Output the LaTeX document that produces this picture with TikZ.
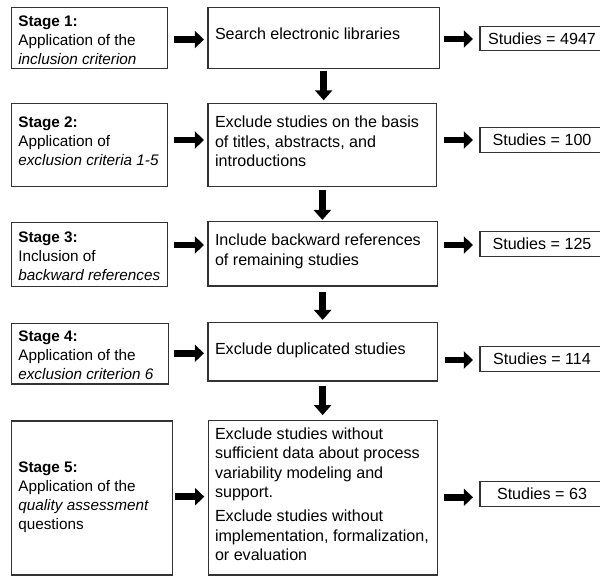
\documentclass[tikz,border=0pt]{standalone}
\usepackage{fontspec}
\setmainfont{Liberation Sans}
\usetikzlibrary{arrows.meta}
\begin{document}
\begin{tikzpicture}[x=0.5pt,y=-0.5pt,
  box/.style={draw=black!80, line width=0.6pt, inner sep=0pt, outer sep=0pt, anchor=north west},
  ltxt/.style={inner sep=0pt, outer sep=0pt, anchor=north west, align=left, font=\fontsize{7.65pt}{9.5pt}\selectfont},
  mtxt/.style={inner sep=0pt, outer sep=0pt, anchor=north west, align=left, font=\fontsize{8.05pt}{9.8pt}\selectfont},
  rbox/.style={box, minimum width=62pt, font=\fontsize{8.05pt}{9.8pt}\selectfont},
  harrow/.style={line width=3.4pt, -{Triangle[length=4.6pt,width=8.5pt]}},
  varrow/.style={line width=3.2pt, -{Triangle[length=5pt,width=8.5pt]}}
]
\useasboundingbox (0,0) rectangle (600,577);

% left column boxes
\node[box, minimum width=78pt, minimum height=30.5pt] (s1) at (11.7,7.3) {};
\node[box, minimum width=78pt, minimum height=41.7pt] (s2) at (11.7,103.3) {};
\node[box, minimum width=78pt, minimum height=32.2pt] (s3) at (11.7,222.3) {};
\node[box, minimum width=78.3pt, minimum height=30.35pt] (s4) at (11.7,323.3) {};
\node[box, minimum width=80.3pt, minimum height=77pt] (s5) at (11.7,421) {};

\node[ltxt] (s1t) at (18.3,12.9) {\textbf{Stage 1:}\strut\\Application of the\strut\\\textit{inclusion criterion}\strut};
\node[ltxt] (s2t) at (18.3,113.9) {\textbf{Stage 2:}\strut\\Application of\strut\\\textit{exclusion criteria 1-5}\strut};
\node[ltxt] (s3t) at (18.3,228.9) {\textbf{Stage 3:}\strut\\Inclusion of\strut\\\textit{backward references}\strut};
\node[ltxt] (s4t) at (18.3,327.9) {\textbf{Stage 4:}\strut\\Application of the\strut\\\textit{exclusion criterion 6}\strut};
\node[ltxt] (s5t) at (18.3,459.5) {\textbf{Stage 5:}\strut\\Application of the\strut\\\textit{quality assessment}\strut\\questions\strut};

% middle column boxes
\node[box, minimum width=115.65pt, minimum height=30.5pt] (m1) at (208,7.3) {};
\node[box, minimum width=114.35pt, minimum height=41.7pt] (m2) at (208,103.3) {};
\node[box, minimum width=114.65pt, minimum height=32.15pt] (m3) at (208,221.7) {};
\node[box, minimum width=114.65pt, minimum height=29.35pt] (m4) at (208,322.3) {};
\node[box, minimum width=114.5pt, minimum height=77.15pt] (m5) at (208.3,420.7) {};

\node[mtxt] (m1t) at (215,25.4) {Search electronic libraries\strut};
\node[mtxt] (m2t) at (215,113.8) {Exclude studies on the basis\strut\\of titles, abstracts, and\strut\\introductions\strut};
\node[mtxt] (m3t) at (215,232.1) {Include backward references\strut\\of remaining studies\strut};
\node[mtxt] (m4t) at (215,340.4) {Exclude duplicated studies\strut};
\node[mtxt] (m5t) at (215,425.4) {Exclude studies without\strut\\sufficient data about process\strut\\variability modeling and\strut\\support.\strut\\[2pt]Exclude studies without\strut\\implementation, formalization,\strut\\or evaluation\strut};

% right column boxes
\node[rbox, minimum height=12pt] (r1) at (480,26.7) {Studies = 4947};
\node[rbox, minimum height=12.3pt] (r2) at (480,127.7) {Studies = 100};
\node[rbox, minimum height=12.5pt] (r3) at (480,231.7) {Studies = 125};
\node[rbox, minimum height=12.5pt] (r4) at (480,346.7) {Studies = 114};
\node[rbox, minimum height=12.5pt] (r5) at (480,481.7) {Studies = 63};

% arrows left -> middle
\draw[harrow, shorten <=3.2pt, shorten >=2pt] (s1.east |- 0,39.5) -- (m1.west |- 0,39.5);
\draw[harrow, shorten <=3.2pt, shorten >=2pt] (s2.east |- 0,140) -- (m2.west |- 0,140);
\draw[harrow, shorten <=3.2pt, shorten >=2pt] (s3.east |- 0,245) -- (m3.west |- 0,245);
\draw[harrow, shorten <=3.0pt, shorten >=2pt] (s4.east |- 0,353.3) -- (m4.west |- 0,353.3);
\draw[harrow, shorten <=1.4pt, shorten >=2pt] (s5.east |- 0,496.7) -- (m5.west |- 0,496.7);

% arrows middle -> right
\draw[harrow, shorten <=2.4pt, shorten >=3.5pt] (m1.east |- 0,39) -- (r1.west |- 0,39);
\draw[harrow, shorten <=3.6pt, shorten >=3.5pt] (m2.east |- 0,140) -- (r2.west |- 0,140);
\draw[harrow, shorten <=3.3pt, shorten >=3.5pt] (m3.east |- 0,245) -- (r3.west |- 0,245);
\draw[harrow, shorten <=3.8pt, shorten >=3.5pt] (m4.east |- 0,360) -- (r4.west |- 0,360);
\draw[harrow, shorten <=3.3pt, shorten >=3.5pt] (m5.east |- 0,497.3) -- (r5.west |- 0,497.3);

% downward arrows
\draw[varrow, shorten <=1.2pt, shorten >=1.5pt] (m1.south) -- (m1.south |- m2.north);
\draw[varrow, shorten <=1.6pt, shorten >=0.9pt] (m2.south) -- (m2.south |- m3.north);
\draw[varrow, shorten <=2.8pt, shorten >=1.2pt] (m3.south) -- (m3.south |- m4.north);
\draw[varrow, shorten <=2.5pt, shorten >=2.8pt] (m4.south) -- (m4.south |- m5.north);
\end{tikzpicture}
\end{document}
